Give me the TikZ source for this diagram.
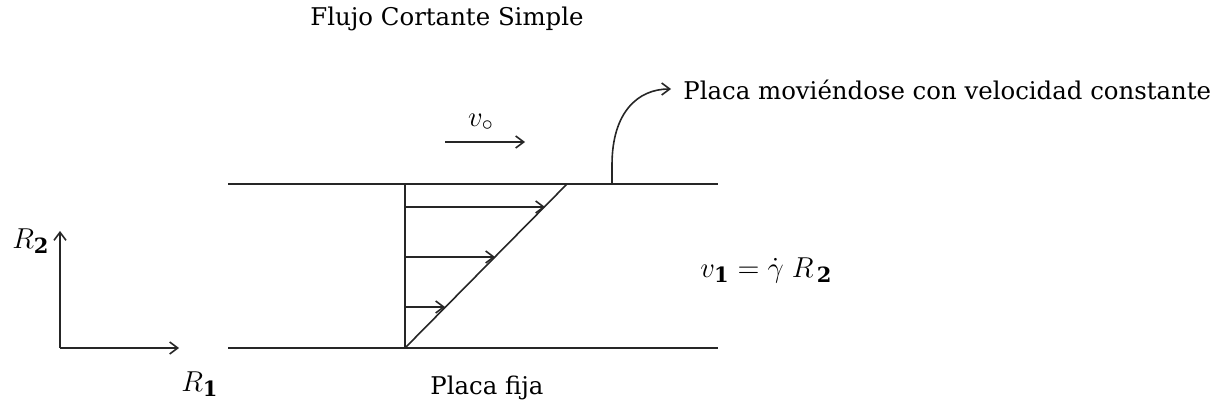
\documentclass[tikz,border=0pt]{standalone}
\usepackage{fontspec}
\setmainfont{DejaVu Serif}
\usetikzlibrary{arrows.meta}
\begin{document}
\begin{tikzpicture}[x=0.5pt,y=-0.5pt,
  ln/.style={line width=0.8pt,black!85},
  arr/.style={ln,-{Straight Barb[length=4pt,width=6pt]}},
  lbl/.style={font=\fontsize{12.2}{14}\selectfont,inner sep=0pt},
  mth/.style={font=\fontsize{15}{17}\selectfont,inner sep=0pt}]
\useasboundingbox (0,0) rectangle (1230,410);
% title
\node[lbl] (title) at (447,19) {Flujo Cortante Simple};
% plates
\coordinate (tl) at (228,184); \coordinate (tr) at (718,184);
\coordinate (bl) at (228,348); \coordinate (br) at (718,348);
\draw[ln] (tl) -- (tr);
\draw[ln] (bl) -- (br);
% profile
\coordinate (p0) at (405,348); \coordinate (ptop) at (405,184);
\coordinate (dtop) at (567,184);
\draw[ln] (p0) -- (ptop);
\draw[ln] (p0) -- (dtop);
\coordinate (a1s) at (405,207); \coordinate (a1e) at (545,207);
\coordinate (a2s) at (405,257); \coordinate (a2e) at (495,257);
\coordinate (a3s) at (405,307); \coordinate (a3e) at (445,307);
\draw[arr] (a1s) -- (a1e);
\draw[arr] (a2s) -- (a2e);
\draw[arr] (a3s) -- (a3e);
% v0
\coordinate (vs) at (445,142); \coordinate (ve) at (525,142);
\draw[arr] (vs) -- (ve);
\node[mth] (vo) at (481,122) {$v_{\circ}$};
% callout
\coordinate (cs) at (612,184);
\coordinate (ce) at (671,89);
\node[lbl,anchor=west] (moving) at (683,90) {Placa moviéndose con velocidad constante};
\draw[arr] (cs) -- (612,165) .. controls (612,112) and (638,89) .. (ce);
% axes
\coordinate (o) at (60,348);
\coordinate (y2) at (60,231); \coordinate (x1) at (179,348);
\draw[arr] (o) -- (y2);
\draw[arr] (o) -- (x1);
\node[mth] (r2) at (31,241) {$R_{\mathbf{2}}$};
\node[mth] (r1) at (200,384) {$R_{\mathbf{1}}$};
% equation
\node[mth,anchor=west] (eq) at (700,270) {$v_{\mathbf{1}}\;{=}\;\dot{\gamma}\;R_{\,\mathbf{2}}$};
% bottom
\node[lbl] (fija) at (487,388) {Placa fija};
\end{tikzpicture}
\end{document}
